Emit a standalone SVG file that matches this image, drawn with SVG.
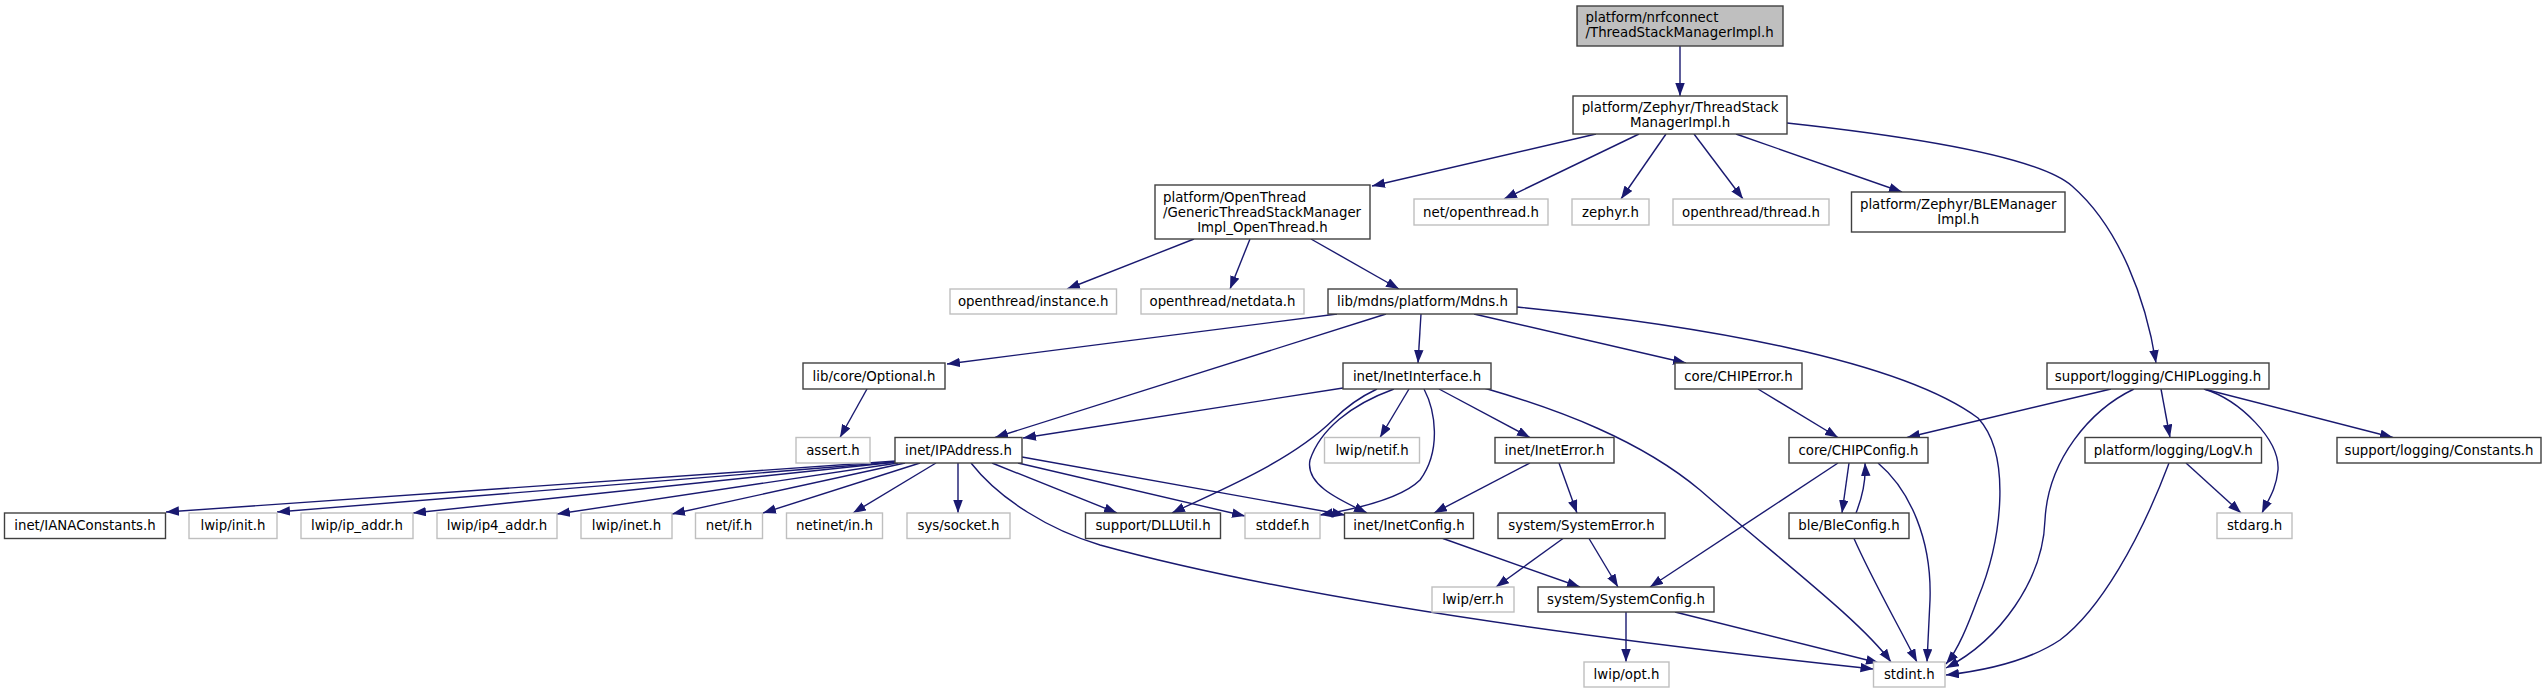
<svg xmlns="http://www.w3.org/2000/svg" width="2546" height="693" viewBox="0 0 2546 693">
<defs>
<style>
.n rect{fill:#fff;stroke:#404040;stroke-width:1.4}
.g rect{fill:#fff;stroke:#bfbfbf;stroke-width:1.4}
text{font-family:"DejaVu Sans","Liberation Sans",sans-serif;font-size:13.33px;fill:#000}
.c{text-anchor:middle}
#edges path{fill:none;stroke:#191970;stroke-width:1.4;marker-end:url(#ah)}
</style>
<marker id="ah" markerWidth="14" markerHeight="10" refX="13" refY="4.75" orient="auto" markerUnits="userSpaceOnUse"><path d="M0,0 L13,4.75 L0,9.5 z" fill="#191970"/></marker>
</defs>
<rect width="2546" height="693" fill="#fff"/>
<g id="edges">
<path d="M1680,46 L1680,96"/>
<path d="M1596,134 L1372,186"/>
<path d="M1639,134 L1504,199"/>
<path d="M1666,134 L1621,199"/>
<path d="M1694,134 L1743,199"/>
<path d="M1736,134 L1902,192"/>
<path d="M1787,123 C1925,138 2040,158 2072,186 C2120,228 2146,300 2156,363"/>
<path d="M1194,239 L1067,289"/>
<path d="M1250,239 L1230,289"/>
<path d="M1311,239 L1399,289"/>
<path d="M1337,314 L947,364"/>
<path d="M1386,314 L995,437.5"/>
<path d="M1421,314 L1418,363"/>
<path d="M1474,314 L1686,363"/>
<path d="M1517,307 C1700,325 1900,360 1978,418 C2012,455 2002,540 1978,598 C1968,625 1958,650 1946,664"/>
<path d="M867,389 L840,437.5"/>
<path d="M1343,388 L1023,438"/>
<path d="M1377,389 C1360,397 1345,408 1333,420 C1290,462 1220,490 1172,513"/>
<path d="M1394,389 C1350,405 1320,430 1310,460 C1305,485 1340,500 1367,513"/>
<path d="M1409,389 L1380,437.5"/>
<path d="M1424,389 C1435,410 1442,450 1420,480 C1400,500 1350,510 1320,515"/>
<path d="M1439,389 L1530,437.5"/>
<path d="M1484,388 C1560,410 1640,440 1700,490 C1780,560 1860,620 1891,662"/>
<path d="M1758,389 L1838,437.5"/>
<path d="M2111,389 L1907,437.5"/>
<path d="M2134,389 C2090,410 2048,460 2045,520 C2043,580 2000,640 1946,668"/>
<path d="M2161,389 L2170,437.5"/>
<path d="M2204,389 C2240,400 2280,440 2278,470 C2276,490 2268,500 2262,513"/>
<path d="M2204,389 L2393,437.5"/>
<path d="M896,461 L166,512"/>
<path d="M896,462 L277,512"/>
<path d="M897,462 L413,513"/>
<path d="M898,463 L557,514"/>
<path d="M905,463 L672,514"/>
<path d="M920,463 L763,513"/>
<path d="M936,463 L853,513"/>
<path d="M958,463 L958,513"/>
<path d="M971,463 C1000,500 1050,530 1100,545 C1300,600 1600,640 1873.5,669"/>
<path d="M992,463 L1117,513"/>
<path d="M1018,463 L1245,516"/>
<path d="M1022,457 L1345,515"/>
<path d="M1530,463 L1434,513"/>
<path d="M1559,463 L1577,513"/>
<path d="M1563,538.5 L1496,587"/>
<path d="M1589,538.5 L1618,587"/>
<path d="M1443,538.5 L1580,587"/>
<path d="M1838,463 L1650,587"/>
<path d="M1849,463 L1842,513"/>
<path d="M1856,513 C1862,498 1866,480 1865,463"/>
<path d="M1878,463 C1910,490 1932,540 1930,600 C1929,620 1928,640 1927,662"/>
<path d="M1854,538.5 C1870,575 1890,610 1917,662"/>
<path d="M1626,612 L1626,662"/>
<path d="M1675,612 L1879,663"/>
<path d="M2186,463 L2241,513"/>
<path d="M2169,463 C2140,540 2100,610 2060,640 C2030,660 1990,670 1946,675"/>
</g>
<g id="root" class="n"><rect x="1577" y="6" width="206" height="40" style="fill:#bfbfbf"/><text x="1585.5" y="22">platform/nrfconnect</text><text x="1585.5" y="37">/ThreadStackManagerImpl.h</text></g>
<g id="zephyr_tsm" class="n"><rect x="1573" y="96" width="214" height="38"/><text class="c" x="1680" y="112">platform/Zephyr/ThreadStack</text><text class="c" x="1680" y="127">ManagerImpl.h</text></g>
<g id="ot_gtsm" class="n"><rect x="1155" y="185" width="215" height="54"/><text x="1163" y="201.5">platform/OpenThread</text><text x="1163" y="216.5">/GenericThreadStackManager</text><text class="c" x="1262.5" y="231.5">Impl_OpenThread.h</text></g>
<g id="net_openthread" class="g"><rect x="1414" y="199" width="134" height="26"/><text class="c" x="1481" y="216.5">net/openthread.h</text></g>
<g id="zephyr_h" class="g"><rect x="1572" y="199" width="77" height="26"/><text class="c" x="1610.5" y="216.5">zephyr.h</text></g>
<g id="ot_thread" class="g"><rect x="1673" y="199" width="156" height="26"/><text class="c" x="1751" y="216.5">openthread/thread.h</text></g>
<g id="ble_manager" class="n"><rect x="1851.5" y="192" width="213.5" height="40"/><text class="c" x="1958.25" y="208.5">platform/Zephyr/BLEManager</text><text class="c" x="1958.25" y="223.5">Impl.h</text></g>
<g id="ot_instance" class="g"><rect x="950" y="289" width="166.5" height="25"/><text class="c" x="1033.25" y="306">openthread/instance.h</text></g>
<g id="ot_netdata" class="g"><rect x="1141" y="289" width="163" height="25"/><text class="c" x="1222.5" y="306">openthread/netdata.h</text></g>
<g id="mdns" class="n"><rect x="1328" y="289" width="189" height="25"/><text class="c" x="1422.5" y="306">lib/mdns/platform/Mdns.h</text></g>
<g id="optional" class="n"><rect x="803" y="363" width="142" height="26"/><text class="c" x="874" y="380.5">lib/core/Optional.h</text></g>
<g id="inet_interface" class="n"><rect x="1343" y="363" width="148" height="26"/><text class="c" x="1417" y="380.5">inet/InetInterface.h</text></g>
<g id="chip_error" class="n"><rect x="1675" y="363" width="127" height="26"/><text class="c" x="1738.5" y="380.5">core/CHIPError.h</text></g>
<g id="chip_logging" class="n"><rect x="2047" y="363" width="222" height="26"/><text class="c" x="2158" y="380.5">support/logging/CHIPLogging.h</text></g>
<g id="assert_h" class="g"><rect x="796" y="437.5" width="74" height="25.5"/><text class="c" x="833" y="454.7">assert.h</text></g>
<g id="ip_address" class="n"><rect x="895" y="437.5" width="127" height="25.5"/><text class="c" x="958.5" y="454.7">inet/IPAddress.h</text></g>
<g id="lwip_netif" class="g"><rect x="1324.5" y="437.5" width="95" height="25.5"/><text class="c" x="1372" y="454.7">lwip/netif.h</text></g>
<g id="inet_error" class="n"><rect x="1495" y="437.5" width="119" height="25.5"/><text class="c" x="1554.5" y="454.7">inet/InetError.h</text></g>
<g id="chip_config" class="n"><rect x="1789" y="437.5" width="139" height="25.5"/><text class="c" x="1858.5" y="454.7">core/CHIPConfig.h</text></g>
<g id="logv" class="n"><rect x="2085" y="437.5" width="176.5" height="25.5"/><text class="c" x="2173.25" y="454.7">platform/logging/LogV.h</text></g>
<g id="constants" class="n"><rect x="2337" y="437.5" width="204" height="25.5"/><text class="c" x="2439" y="454.7">support/logging/Constants.h</text></g>
<g id="iana" class="n"><rect x="4.5" y="513" width="161" height="25.5"/><text class="c" x="85" y="530.2">inet/IANAConstants.h</text></g>
<g id="lwip_init" class="g"><rect x="189" y="513" width="88" height="25.5"/><text class="c" x="233" y="530.2">lwip/init.h</text></g>
<g id="lwip_ip_addr" class="g"><rect x="301" y="513" width="112" height="25.5"/><text class="c" x="357" y="530.2">lwip/ip_addr.h</text></g>
<g id="lwip_ip4_addr" class="g"><rect x="437" y="513" width="120" height="25.5"/><text class="c" x="497" y="530.2">lwip/ip4_addr.h</text></g>
<g id="lwip_inet" class="g"><rect x="581" y="513" width="91" height="25.5"/><text class="c" x="626.5" y="530.2">lwip/inet.h</text></g>
<g id="net_if" class="g"><rect x="695.5" y="513" width="67" height="25.5"/><text class="c" x="729" y="530.2">net/if.h</text></g>
<g id="netinet_in" class="g"><rect x="786.5" y="513" width="96" height="25.5"/><text class="c" x="834.5" y="530.2">netinet/in.h</text></g>
<g id="sys_socket" class="g"><rect x="907" y="513" width="103" height="25.5"/><text class="c" x="958.5" y="530.2">sys/socket.h</text></g>
<g id="dllutil" class="n"><rect x="1085.5" y="513" width="135" height="25.5"/><text class="c" x="1153" y="530.2">support/DLLUtil.h</text></g>
<g id="stddef" class="g"><rect x="1245" y="513" width="75" height="25.5"/><text class="c" x="1282.5" y="530.2">stddef.h</text></g>
<g id="inet_config" class="n"><rect x="1344.5" y="513" width="129" height="25.5"/><text class="c" x="1409" y="530.2">inet/InetConfig.h</text></g>
<g id="system_error" class="n"><rect x="1498" y="513" width="167" height="25.5"/><text class="c" x="1581.5" y="530.2">system/SystemError.h</text></g>
<g id="ble_config" class="n"><rect x="1789" y="513" width="120" height="25.5"/><text class="c" x="1849" y="530.2">ble/BleConfig.h</text></g>
<g id="stdarg" class="g"><rect x="2217" y="513" width="75" height="25.5"/><text class="c" x="2254.5" y="530.2">stdarg.h</text></g>
<g id="lwip_err" class="g"><rect x="1432" y="587" width="82" height="25"/><text class="c" x="1473" y="604">lwip/err.h</text></g>
<g id="system_config" class="n"><rect x="1538" y="587" width="176" height="25"/><text class="c" x="1626" y="604">system/SystemConfig.h</text></g>
<g id="lwip_opt" class="g"><rect x="1584" y="662" width="85" height="25"/><text class="c" x="1626.5" y="679">lwip/opt.h</text></g>
<g id="stdint" class="g"><rect x="1873.5" y="662" width="71.5" height="25"/><text class="c" x="1909.25" y="679">stdint.h</text></g>
</svg>
